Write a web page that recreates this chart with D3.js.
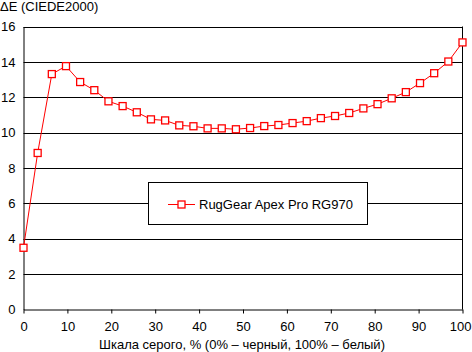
<!DOCTYPE html>
<html><head><meta charset="utf-8">
<script src="https://cdn.jsdelivr.net/npm/d3@7"></script>
<style>
html,body{margin:0;padding:0;background:#fff;}
svg{display:block;font-family:"Liberation Sans",Arial,sans-serif;}
</style></head>
<body>
<svg id="c" width="472" height="352"></svg>
<script>
const seriesName = "RugGear Apex Pro RG970";
const grayPercent = d3.range(32).map(i => i * 100 / 31);
const deltaE = [3.49, 8.85, 13.31, 13.76, 12.86, 12.40, 11.77, 11.50, 11.15, 10.75,
  10.69, 10.41, 10.36, 10.24, 10.24, 10.19, 10.26, 10.37, 10.43, 10.54,
  10.65, 10.82, 10.94, 11.11, 11.37, 11.61, 11.94, 12.29, 12.80, 13.36,
  14.02, 15.10];
const xTicks = [0, 10, 20, 30, 40, 50, 60, 70, 80, 90, 100];
const yTicks = [0, 2, 4, 6, 8, 10, 12, 14, 16];
const yTitle = "ΔE (CIEDE2000)";
const xTitle = "Шкала серого, % (0% – черный, 100% – белый)";

const svg = d3.select("#c");
const L = 23.5, R = 462.5, T = 26.5, B = 309.5;
const x = d3.scaleLinear().domain([0, 100]).range([L, R]);
const y = d3.scaleLinear().domain([0, 16]).range([B, T]);

// gridlines
svg.append("g").selectAll("line").data(yTicks.filter(d => d > 0)).join("line")
  .attr("x1", L).attr("x2", R)
  .attr("y1", d => Math.round(y(d)) + 0.5).attr("y2", d => Math.round(y(d)) + 0.5)
  .attr("stroke", "#000").attr("stroke-width", 1);

// right border
svg.append("line").attr("x1", R).attr("x2", R).attr("y1", T).attr("y2", B)
  .attr("stroke", "#000");

// y axis
const ya = svg.append("g").attr("transform", `translate(${L},0)`)
  .call(d3.axisLeft(y).tickValues(yTicks).tickSize(0).tickPadding(8).tickFormat(d3.format("d")));
ya.select(".domain").attr("stroke", "#000");
ya.selectAll("text").attr("font-size", 13).attr("fill", "#000")
  .attr("font-family", '"Liberation Sans",Arial,sans-serif');

// x axis
const xa = svg.append("g").attr("transform", `translate(0,${B})`)
  .call(d3.axisBottom(x).tickValues(xTicks).tickSize(4).tickSizeOuter(0).tickPadding(8).tickFormat(d3.format("d")));
xa.select(".domain").attr("stroke", "#000");
xa.selectAll("line").attr("stroke", "#000");
xa.selectAll("text").attr("font-size", 13).attr("fill", "#000")
  .attr("font-family", '"Liberation Sans",Arial,sans-serif');
// keep the last label inside the picture
xa.selectAll(".tick").filter(d => d === 100).select("text")
  .attr("text-anchor", "end").attr("x", 471 - x(100));

// titles
svg.append("text").attr("x", 0).attr("y", 11).attr("font-size", 13).attr("fill", "#000").text(yTitle);
svg.append("text").attr("x", 242).attr("y", 349).attr("text-anchor", "middle")
  .attr("font-size", 13).attr("fill", "#000").text(xTitle);

// legend box (behind the line)
const lg = svg.append("g");
lg.append("rect").attr("x", 148.5).attr("y", 182.5).attr("width", 219).attr("height", 42)
  .attr("fill", "#fff").attr("stroke", "#000");
lg.append("line").attr("x1", 168).attr("x2", 195).attr("y1", 204.5).attr("y2", 204.5)
  .attr("stroke", "#ff0000");
lg.append("rect").attr("x", 178).attr("y", 201).attr("width", 7).attr("height", 7)
  .attr("fill", "#fff").attr("stroke", "#ff0000").attr("stroke-width", 1.3);
lg.append("text").attr("x", 199).attr("y", 209).attr("font-size", 13).attr("fill", "#000").text(seriesName);

// series
const pts = grayPercent.map((g, i) => [g, deltaE[i]]);
svg.append("path").datum(pts)
  .attr("d", d3.line().x(d => x(d[0])).y(d => y(d[1])))
  .attr("fill", "none").attr("stroke", "#ff0000").attr("stroke-width", 1);
svg.append("g").selectAll("rect").data(pts).join("rect")
  .attr("x", d => x(d[0]) - 3.5).attr("y", d => y(d[1]) - 3.5)
  .attr("width", 7).attr("height", 7)
  .attr("fill", "#fff").attr("stroke", "#ff0000").attr("stroke-width", 1.3);
</script>
</body></html>
